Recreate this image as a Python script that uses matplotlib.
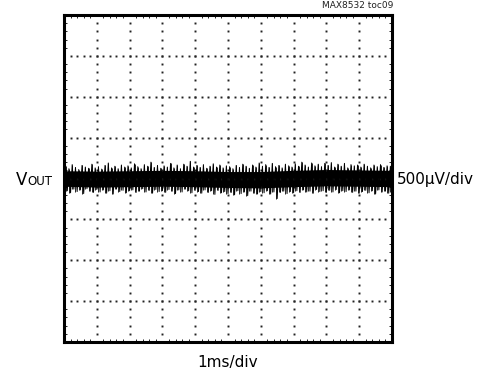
import numpy as np
import matplotlib
matplotlib.use("Agg")
import matplotlib.pyplot as plt

plt.rcParams['font.family'] = ['DejaVu Sans Condensed', 'DejaVu Sans']

# scope settings: 1ms/div x 10 div, 500uV/div x 8 div
ms_per_div = 1.0
uv_per_div = 500.0
n_xdiv = 10
n_ydiv = 8

# noise trace, peak values (uV), one pair every 0.1 ms
spike_t = np.arange(0.05, 10.0, 0.1)
spike_hi = [150, 120, 170, 135, 110, 160, 140, 125, 175, 130,
            145, 115, 160, 190, 130, 150, 120, 165, 140, 155,
            130, 180, 145, 120, 170, 150, 200, 135, 160, 125,
            155, 140, 185, 130, 165, 120, 175, 150, 210, 140,
            160, 135, 170, 125, 150, 180, 140, 165, 130, 155,
            145, 120, 160, 135, 175, 150, 125, 165, 140, 190,
            150, 170, 135, 185, 145, 160, 130, 175, 155, 140,
            180, 150, 200, 165, 140, 190, 155, 175, 145, 185,
            160, 195, 140, 175, 150, 185, 130, 170, 155, 165,
            140, 175, 150, 130, 165, 145, 170, 135, 155, 150]
spike_lo = [-150, -175, -130, -160, -140, -185, -125, -155, -170, -135,
            -165, -140, -180, -150, -190, -130, -160, -145, -175, -150,
            -140, -170, -155, -125, -165, -145, -180, -135, -160, -150,
            -170, -135, -155, -185, -140, -165, -130, -150, -175, -145,
            -160, -180, -140, -170, -150, -195, -145, -175, -160, -185,
            -170, -200, -150, -185, -165, -210, -155, -180, -190, -160,
            -175, -150, -190, -165, -245, -170, -155, -185, -160, -175,
            -150, -170, -140, -165, -155, -180, -135, -160, -150, -170,
            -145, -165, -135, -175, -150, -160, -140, -170, -155, -180,
            -160, -145, -175, -150, -190, -140, -165, -155, -180, -170]

# dense core of the trace (uV)
core_t = np.arange(0, 11, 1.0)
core_hi = [95, 90, 95, 100, 95, 85, 85, 100, 110, 105, 100]
core_lo = [-95, -105, -100, -95, -100, -110, -115, -100, -90, -95, -100]

fig = plt.figure(figsize=(4.79, 3.72), dpi=100)
ax = fig.add_axes([64 / 479, 1 - 342 / 372, 328 / 479, 327 / 372])

xmax = n_xdiv * ms_per_div
ymax = n_ydiv / 2 * uv_per_div
ax.set_xlim(0, xmax)
ax.set_ylim(-ymax, ymax)

# dotted graticule
xmaj = np.arange(0, xmax + 0.01, ms_per_div)
ymaj = np.arange(-ymax, ymax + 1, uv_per_div)
xmin = np.arange(0, xmax + 0.01, ms_per_div / 5)
ymin = np.arange(-ymax, ymax + 1, uv_per_div / 5)
for xv in xmaj[1:-1]:
    ax.plot(np.full(len(ymin), xv), ymin, ls='none', marker='s', ms=1.4,
            mec='none', color='#222222')
for yv in ymaj[1:-1]:
    ax.plot(xmin, np.full(len(xmin), yv), ls='none', marker='s', ms=1.4,
            mec='none', color='#222222')

# trace
ax.fill_between(core_t, core_lo, core_hi, color='black', lw=0)
zx = np.column_stack([spike_t, spike_t + 0.05]).ravel()
zy = np.column_stack([spike_hi, spike_lo]).ravel()
ax.plot(zx, zy, color='black', lw=0.7)
ax.vlines(spike_t, spike_lo, spike_hi, color='black', lw=0.6)

ax.set_xticks(xmaj)
ax.set_yticks(ymaj)
ax.set_xticks(xmin, minor=True)
ax.set_yticks(ymin, minor=True)
ax.tick_params(which='both', direction='in', top=True, right=True,
               labelbottom=False, labelleft=False)
ax.tick_params(which='major', length=0)
ax.tick_params(which='minor', length=2.5, width=0.6)
for s in ax.spines.values():
    s.set_linewidth(2.2)

fig.text(393 / 479, 1 - 6 / 372, 'MAX8532 toc09', ha='right', va='center',
         fontsize=6.5, color='#222222')
fig.text(16 / 479, 1 - 185 / 372, 'V', ha='left', va='baseline', fontsize=12)
fig.text(27 / 479, 1 - 185 / 372, 'OUT', ha='left', va='baseline', fontsize=8.5)
fig.text(397 / 479, 1 - 184 / 372, '500\u00b5V/div', ha='left', va='baseline',
         fontsize=11)
fig.text(228 / 479, 1 - 363 / 372, '1ms/div', ha='center', va='center',
         fontsize=11)

fig.savefig('out.png', dpi=100)
